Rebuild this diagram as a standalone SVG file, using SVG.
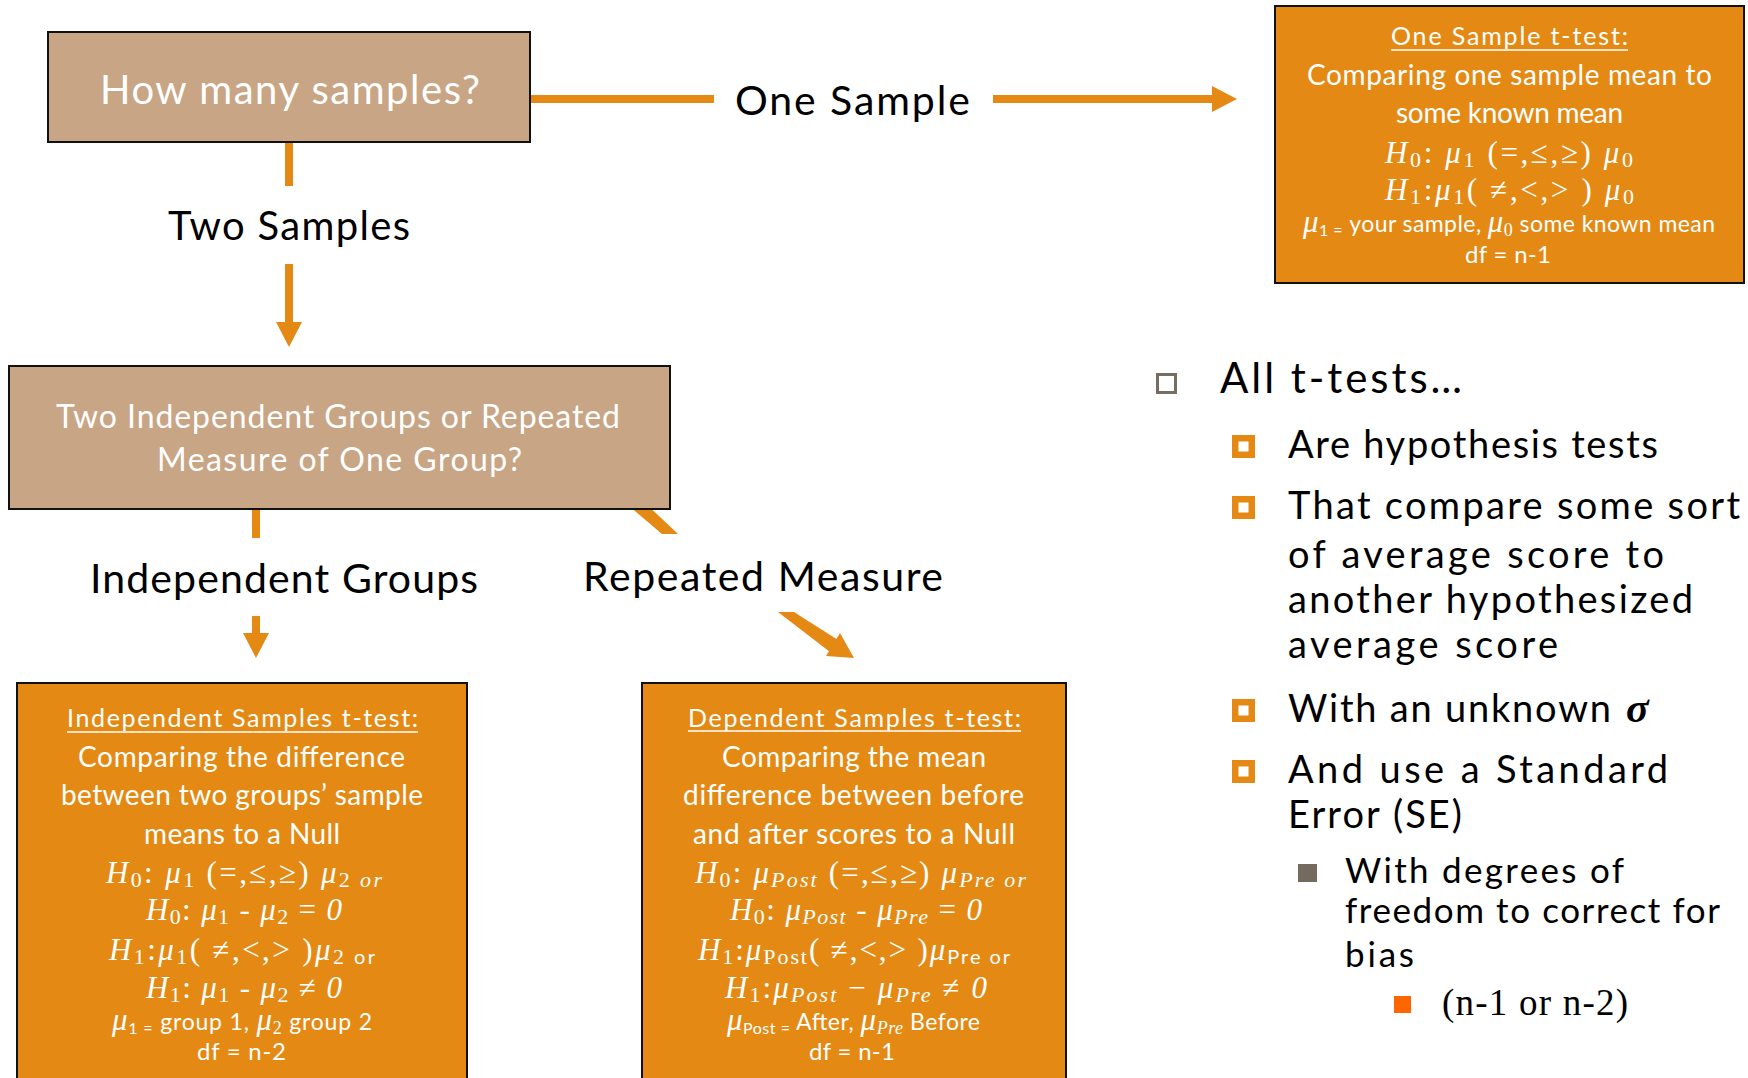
<svg xmlns="http://www.w3.org/2000/svg" width="1748" height="1078" viewBox="0 0 1748 1078">
<style>
.bg{fill:#ffffff}
.tan{fill:#C8A585;stroke:#111;stroke-width:2}
.org{fill:#E48A14;stroke:#111;stroke-width:2}
.ln{stroke:#E48A14;stroke-width:8;fill:none}
.hd{fill:#E48A14}
.ul{stroke:#ffffff;stroke-width:1.6}
.s{font-family:Lato,"Open Sans","Liberation Sans",sans-serif}
.w{fill:#ffffff}
.k{fill:#000000}
.m{font-family:"Liberation Serif","DejaVu Serif",serif;fill:#ffffff;font-size:31px}
.i{font-style:italic}
.sub{font-size:22px}
.op{font-size:31px}
</style>
<rect class="bg" x="0" y="0" width="1748" height="1078"/>

<g id="connectors">
  <line class="ln" x1="530" y1="99" x2="714" y2="99"/>
  <line class="ln" x1="993" y1="99" x2="1214" y2="99"/>
  <polygon class="hd" points="1212,86 1237,99 1212,112"/>
  <line class="ln" x1="289" y1="142" x2="289" y2="186"/>
  <line class="ln" x1="289" y1="264" x2="289" y2="324"/>
  <polygon class="hd" points="276,322 289,347 302,322"/>
  <line class="ln" x1="256" y1="505" x2="256" y2="538"/>
  <line class="ln" x1="256" y1="616" x2="256" y2="635"/>
  <polygon class="hd" points="243,633 256,658 269,633"/>
  <polygon class="hd" points="622,500 642,500 678,534 662,534"/>
  <polygon class="hd" points="778,612 794,612 838,640 830,652"/>
  <polygon class="hd" points="826,656 840,633 854,658"/>
</g>

<g id="labels">
  <text class="s k" x="735" y="115" font-size="41" textLength="235">One Sample</text>
  <text class="s k" x="168" y="240" font-size="40" textLength="242">Two Samples</text>
  <text class="s k" x="90" y="593" font-size="41" textLength="388">Independent Groups</text>
  <text class="s k" x="583" y="591" font-size="41" textLength="360">Repeated Measure</text>
</g>

<g id="node-how-many">
  <rect class="tan" x="48" y="32" width="482" height="110"/>
  <text class="s w" x="100" y="104" font-size="40" textLength="380">How many samples?</text>
</g>

<g id="node-two-groups">
  <rect class="tan" x="9" y="366" width="661" height="143"/>
  <text class="s w" x="56" y="428" font-size="32" textLength="564">Two Independent Groups or Repeated</text>
  <text class="s w" x="157" y="471" font-size="32" textLength="365">Measure of One Group?</text>
</g>

<g id="node-one-sample">
  <rect class="org" x="1275" y="6" width="469" height="277"/>
  <text class="s w" x="1391" y="45" font-size="25" textLength="237">One Sample t-test:</text>
  <line class="ul" x1="1391" y1="50" x2="1628" y2="50"/>
  <text class="s w" x="1307" y="85" font-size="28" textLength="405">Comparing one sample mean to</text>
  <text class="s w" x="1396" y="123" font-size="28" textLength="227">some known mean</text>
  <text class="m" x="1385" y="163" textLength="248"><tspan class="i">H</tspan><tspan class="sub" dy="4">0</tspan><tspan dy="-4">: </tspan><tspan class="i">μ</tspan><tspan class="sub" dy="4">1</tspan><tspan class="op" dy="-4"> (=,≤,≥) </tspan><tspan class="i">μ</tspan><tspan class="sub" dy="4">0</tspan></text>
  <text class="m" x="1385" y="200" textLength="249"><tspan class="i">H</tspan><tspan class="sub" dy="4">1</tspan><tspan dy="-4">:</tspan><tspan class="i">μ</tspan><tspan class="sub" dy="4">1</tspan><tspan class="op" dy="-4">( ≠,&lt;,&gt; ) </tspan><tspan class="i">μ</tspan><tspan class="sub" dy="4">0</tspan></text>
  <text class="m" x="1303" y="232" font-size="26" textLength="412"><tspan class="i">μ</tspan><tspan class="s" font-size="16" dy="4">1 =</tspan><tspan class="s" font-size="23" dy="-4"> your sample, </tspan><tspan class="i">μ</tspan><tspan font-size="18" dy="4">0</tspan><tspan class="s" font-size="23" dy="-4"> some known mean</tspan></text>
  <text class="s w" x="1465" y="263" font-size="24" textLength="86">df = n-1</text>
</g>

<g id="node-independent">
  <rect class="org" x="17" y="683" width="450" height="420"/>
  <text class="s w" x="67" y="727" font-size="25" textLength="351">Independent Samples t-test:</text>
  <line class="ul" x1="67" y1="732" x2="418" y2="732"/>
  <text class="s w" x="78" y="767" font-size="28" textLength="327">Comparing the difference</text>
  <text class="s w" x="61" y="805" font-size="28" textLength="362">between two groups’ sample</text>
  <text class="s w" x="144" y="844" font-size="28" textLength="196">means to a Null</text>
  <text class="m" x="106" y="883" textLength="276"><tspan class="i">H</tspan><tspan class="sub" dy="4">0</tspan><tspan dy="-4">: </tspan><tspan class="i">μ</tspan><tspan class="sub" dy="4">1</tspan><tspan class="op" dy="-4"> (=,≤,≥) </tspan><tspan class="i">μ</tspan><tspan class="sub" dy="4">2 </tspan><tspan class="sub i">or</tspan></text>
  <text class="m" x="146" y="920" textLength="196"><tspan class="i">H</tspan><tspan class="sub" dy="4">0</tspan><tspan dy="-4">: </tspan><tspan class="i">μ</tspan><tspan class="sub" dy="4">1</tspan><tspan dy="-4"> - </tspan><tspan class="i">μ</tspan><tspan class="sub" dy="4">2</tspan><tspan class="op" dy="-4"> = </tspan><tspan class="i">0</tspan></text>
  <text class="m" x="109" y="960" textLength="266"><tspan class="i">H</tspan><tspan class="sub" dy="4">1</tspan><tspan dy="-4">:</tspan><tspan class="i">μ</tspan><tspan class="sub" dy="4">1</tspan><tspan class="op" dy="-4">( ≠,&lt;,&gt; )</tspan><tspan class="i">μ</tspan><tspan class="sub" dy="4">2</tspan><tspan class="s" font-size="20"> or</tspan></text>
  <text class="m" x="146" y="998" textLength="196"><tspan class="i">H</tspan><tspan class="sub" dy="4">1</tspan><tspan dy="-4">: </tspan><tspan class="i">μ</tspan><tspan class="sub" dy="4">1</tspan><tspan dy="-4"> - </tspan><tspan class="i">μ</tspan><tspan class="sub" dy="4">2</tspan><tspan class="op" dy="-4"> ≠ </tspan><tspan class="i">0</tspan></text>
  <text class="m" x="112" y="1030" font-size="26" textLength="260"><tspan class="i">μ</tspan><tspan class="s" font-size="16" dy="4">1 =</tspan><tspan class="s" font-size="23" dy="-4"> group 1, </tspan><tspan class="i">μ</tspan><tspan font-size="18" dy="4">2</tspan><tspan class="s" font-size="23" dy="-4"> group 2</tspan></text>
  <text class="s w" x="197" y="1060" font-size="24" textLength="89">df = n-2</text>
</g>

<g id="node-dependent">
  <rect class="org" x="642" y="683" width="424" height="420"/>
  <text class="s w" x="688" y="727" font-size="25" textLength="333">Dependent Samples t-test:</text>
  <line class="ul" x1="688" y1="731" x2="1021" y2="731"/>
  <text class="s w" x="722" y="767" font-size="28" textLength="264">Comparing the mean</text>
  <text class="s w" x="683" y="805" font-size="28" textLength="341">difference between before</text>
  <text class="s w" x="693" y="844" font-size="28" textLength="322">and after scores to a Null</text>
  <text class="m" x="695" y="883" textLength="331"><tspan class="i">H</tspan><tspan class="sub" dy="4">0</tspan><tspan dy="-4">: </tspan><tspan class="i">μ</tspan><tspan class="sub i" dy="4">Post</tspan><tspan class="op" dy="-4"> (=,≤,≥) </tspan><tspan class="i">μ</tspan><tspan class="sub i" dy="4">Pre or</tspan></text>
  <text class="m" x="730" y="920" textLength="252"><tspan class="i">H</tspan><tspan class="sub" dy="4">0</tspan><tspan dy="-4">: </tspan><tspan class="i">μ</tspan><tspan class="sub i" dy="4">Post</tspan><tspan dy="-4"> - </tspan><tspan class="i">μ</tspan><tspan class="sub i" dy="4">Pre</tspan><tspan class="op" dy="-4"> = </tspan><tspan class="i">0</tspan></text>
  <text class="m" x="698" y="960" textLength="312"><tspan class="i">H</tspan><tspan class="sub" dy="4">1</tspan><tspan dy="-4">:</tspan><tspan class="i">μ</tspan><tspan class="sub" dy="4">Post</tspan><tspan class="op" dy="-4">( ≠,&lt;,&gt; )</tspan><tspan class="i">μ</tspan><tspan class="s" font-size="20" dy="4">Pre or</tspan></text>
  <text class="m" x="725" y="998" textLength="262"><tspan class="i">H</tspan><tspan class="sub" dy="4">1</tspan><tspan dy="-4">:</tspan><tspan class="i">μ</tspan><tspan class="sub i" dy="4">Post</tspan><tspan class="op" dy="-4"> − </tspan><tspan class="i">μ</tspan><tspan class="sub i" dy="4">Pre</tspan><tspan class="op" dy="-4"> ≠ </tspan><tspan class="i">0</tspan></text>
  <text class="m" x="727" y="1030" font-size="26" textLength="253"><tspan class="i">μ</tspan><tspan class="s" font-size="16" dy="4">Post =</tspan><tspan class="s" font-size="23" dy="-4"> After, </tspan><tspan class="i">μ</tspan><tspan class="i" font-size="18" dy="4">Pre</tspan><tspan class="s" font-size="23" dy="-4"> Before</tspan></text>
  <text class="s w" x="809" y="1060" font-size="24" textLength="86">df = n-1</text>
</g>

<g id="bullets">
  <rect x="1157.5" y="374.5" width="18" height="18" fill="#fff" stroke="#766e62" stroke-width="3"/>
  <text class="s k" x="1220" y="393" font-size="42" textLength="242">All t-tests…</text>

  <rect x="1232" y="435" width="23" height="23" fill="#E48A14"/>
  <rect x="1238.5" y="441.5" width="10" height="10" fill="#fff"/>
  <text class="s k" x="1288" y="458" font-size="38" textLength="370">Are hypothesis tests</text>

  <rect x="1232" y="496" width="23" height="23" fill="#E48A14"/>
  <rect x="1238.5" y="502.5" width="10" height="10" fill="#fff"/>
  <text class="s k" x="1288" y="519" font-size="38" textLength="452">That compare some sort</text>
  <text class="s k" x="1288" y="568" font-size="38" textLength="376">of average score to</text>
  <text class="s k" x="1288" y="613" font-size="38" textLength="405">another hypothesized</text>
  <text class="s k" x="1288" y="658" font-size="38" textLength="270">average score</text>

  <rect x="1232" y="699" width="23" height="23" fill="#E48A14"/>
  <rect x="1238.5" y="705.5" width="10" height="10" fill="#fff"/>
  <text class="s k" x="1288" y="722" font-size="38" textLength="323">With an unknown</text>
  <text x="1626" y="722" font-family="'Liberation Serif',serif" font-style="italic" font-weight="bold" font-size="42" fill="#000">σ</text>

  <rect x="1232" y="760" width="23" height="23" fill="#E48A14"/>
  <rect x="1238.5" y="766.5" width="10" height="10" fill="#fff"/>
  <text class="s k" x="1288" y="783" font-size="38" textLength="380">And use a Standard</text>
  <text class="s k" x="1288" y="828" font-size="38" textLength="174">Error (SE)</text>

  <rect x="1298" y="864" width="19" height="18" fill="#746b5e"/>
  <text class="s k" x="1345" y="883" font-size="35" textLength="279">With degrees of</text>
  <text class="s k" x="1345" y="923" font-size="35" textLength="375">freedom to correct for</text>
  <text class="s k" x="1345" y="967" font-size="35" textLength="69">bias</text>

  <rect x="1394" y="996" width="17" height="17" fill="#FF6600"/>
  <text x="1442" y="1015" font-family="'Liberation Serif',serif" font-size="37" fill="#000" textLength="186">(n-1 or n-2)</text>
</g>
</svg>
